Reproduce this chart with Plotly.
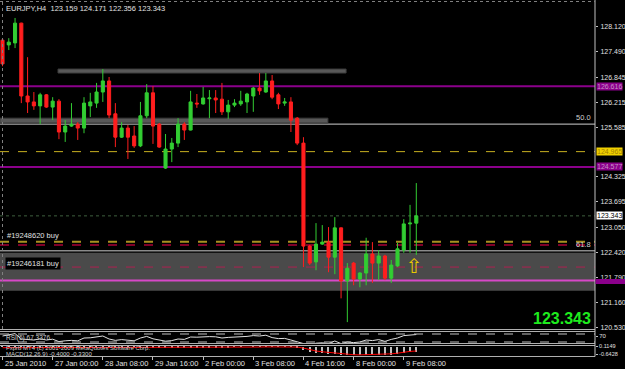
import plotly.graph_objects as go

# ---------------- data ----------------
chart_title = "EURJPY,H4  123.159 124.171 122.356 123.343"

opens = [127.78, 127.66, 127.71, 128.21, 126.37, 126.22, 126.12, 126.40, 126.09, 126.24,
         125.46, 125.61, 125.66, 125.56, 126.12, 126.19, 126.47, 126.75, 125.92, 125.33,
         125.56, 125.36, 125.11, 125.87, 126.45, 125.66, 124.55, 125.03, 125.18, 125.66,
         125.51, 126.19, 126.17, 126.30, 126.32, 126.29, 125.97, 126.14, 126.17, 126.22,
         126.37, 126.57, 126.47, 126.75, 126.40, 126.19, 126.22, 125.81, 125.18, 122.58,
         122.18, 122.63, 122.68, 122.30, 123.04, 121.70, 122.15, 121.75, 121.90, 122.38,
         122.15, 122.33, 121.77, 122.08, 122.48, 123.14, 123.159]
highs = [127.80, 127.83, 128.34, 128.22, 127.35, 126.47, 126.45, 126.42, 126.34, 126.29,
         125.76, 126.19, 125.71, 126.34, 126.45, 126.70, 127.05, 126.85, 126.19, 125.71,
         125.64, 125.61, 126.22, 126.67, 126.62, 125.69, 125.41, 125.31, 125.81, 125.71,
         126.50, 126.42, 126.60, 126.52, 126.52, 126.70, 126.27, 126.29, 126.50, 126.45,
         126.60, 126.95, 126.95, 126.90, 126.45, 126.32, 126.34, 125.84, 125.33, 122.61,
         123.16, 123.11, 123.06, 123.31, 123.05, 122.15, 122.18, 121.92, 122.79, 122.68,
         122.48, 122.36, 122.23, 122.66, 123.26, 123.62, 124.171]
lows = [127.12, 127.53, 127.58, 126.19, 125.94, 126.02, 125.66, 126.07, 125.76, 125.28,
        125.21, 125.59, 125.26, 125.43, 125.84, 126.07, 126.22, 125.81, 125.08, 125.31,
        124.78, 125.06, 125.08, 125.81, 125.16, 125.06, 124.53, 124.70, 125.08, 125.26,
        125.50, 126.07, 126.15, 125.81, 125.94, 125.89, 125.79, 126.09, 126.12, 125.94,
        125.97, 126.40, 126.45, 126.29, 126.04, 126.12, 125.46, 125.13, 122.05, 122.10,
        121.97, 122.61, 121.92, 121.87, 121.26, 120.66, 121.59, 121.54, 121.59, 121.65,
        121.72, 121.72, 121.65, 122.05, 122.41, 122.41, 122.356]
closes = [127.18, 127.73, 128.21, 126.37, 126.22, 126.12, 126.40, 126.09, 126.24, 125.46,
          125.61, 125.66, 125.56, 126.19, 126.22, 126.47, 126.75, 125.89, 125.33, 125.56,
          125.33, 125.11, 125.87, 126.45, 125.61, 125.08, 125.03, 125.18, 125.66, 125.51,
          126.22, 126.17, 126.32, 126.32, 126.27, 125.97, 126.14, 126.19, 126.24, 126.42,
          126.57, 126.50, 126.75, 126.34, 126.17, 126.22, 125.76, 125.18, 122.58, 122.15,
          122.63, 122.68, 122.30, 123.04, 121.70, 122.02, 121.75, 121.90, 122.38, 122.15,
          122.33, 121.77, 122.10, 122.51, 123.14, 123.16, 123.343]

rsi_values = [60, 65, 72, 45, 42, 40, 46, 40, 44, 32,
              36, 38, 36, 50, 51, 56, 60, 45, 38, 42,
              38, 36, 50, 58, 46, 40, 34, 37, 45, 43,
              55, 54, 57, 57, 56, 50, 53, 54, 55, 58,
              62, 60, 64, 52, 47, 48, 40, 32, 15, 13,
              24, 26, 22, 35, 22, 30, 27, 30, 40, 37,
              42, 33, 43, 50, 62, 63, 67.3]
rsi_levels = [70, 30]

macd_hist = [0.03, 0.04, 0.05, 0.02, -0.01, -0.03, -0.04, -0.05, -0.05, -0.06,
             -0.07, -0.07, -0.07, -0.06, -0.05, -0.04, -0.03, -0.03, -0.04, -0.05,
             -0.06, -0.06, -0.05, -0.04, -0.04, -0.05, -0.06, -0.06, -0.05, -0.05,
             -0.04, -0.03, -0.02, -0.02, -0.02, -0.02, -0.02, -0.01, -0.01, 0.00,
             0.01, 0.02, 0.02, 0.02, 0.01, 0.01, -0.01, -0.06, -0.25, -0.38,
             -0.45, -0.50, -0.55, -0.56, -0.63, -0.66, -0.68, -0.68, -0.66, -0.64,
             -0.63, -0.64, -0.62, -0.58, -0.50, -0.44, -0.40]
macd_signal = [-0.07, -0.07, -0.07, -0.07, -0.07, -0.07, -0.07, -0.07, -0.07, -0.07,
               -0.07, -0.07, -0.07, -0.07, -0.07, -0.07, -0.07, -0.07, -0.07, -0.07,
               -0.07, -0.07, -0.07, -0.07, -0.06, -0.06, -0.06, -0.06, -0.06, -0.06,
               -0.05, -0.05, -0.05, -0.05, -0.04, -0.04, -0.04, -0.03, -0.03, -0.03,
               -0.02, -0.02, -0.01, -0.01, 0.00, 0.00, 0.00, -0.02, -0.10, -0.24,
               -0.33, -0.39, -0.44, -0.48, -0.52, -0.57, -0.62, -0.63, -0.62, -0.60,
               -0.58, -0.57, -0.55, -0.50, -0.42, -0.36, -0.33]

time_tick_bars = [0, 8, 16, 24, 32, 40, 48, 56, 64]
time_tick_labels = ["25 Jan 2010", "27 Jan 00:00", "28 Jan 08:00", "29 Jan 16:00",
                    "2 Feb 00:00", "3 Feb 08:00", "4 Feb 16:00", "8 Feb 00:00", "9 Feb 08:00"]

price_ticks = [128.120, 127.490, 126.845, 126.215, 125.585, 124.325,
               123.695, 123.050, 122.420, 121.790, 121.160, 120.530]
price_tick_labels = ["128.120", "127.490", "126.845", "126.215", "125.585", "124.325",
                     "123.695", "123.050", "122.420", "121.790", "121.160", "120.530"]

# horizontal objects on the chart
purple_levels = [126.616, 124.577]
purple_labels = ["126.616", "124.577"]
yellow_level = 124.965
yellow_label = "124.965"
bid_price = 123.343
bid_label = "123.343"
fib_levels = [125.66, 122.46]
fib_names = ["50.0", "61.8"]
order_levels = [122.69, 122.61]
order_label = "#19248620 buy"
zone_label = "#19246181 buy"
zone_low, zone_high = 121.45, 122.41
zone_mid_level = 122.05
pink_level = 121.71
bars_top = [(8.85, 54.8, 126.95, 127.05), (-0.4, 51.9, 125.69, 125.81)]  # (start bar, end bar, low, high)
arrow_bar = [65.6]
arrow_price = [122.02]

# ---------------- figure ----------------
W, H = 625, 369
XR = 595 / W
def py(px):
    return 1 - px / H

GREEN = "#32CD32"
RED = "#FF1E1E"
FONT = "Liberation Sans"
bars = list(range(len(opens)))

fig = go.Figure()
fig.add_trace(go.Candlestick(
    x=bars, open=opens, high=highs, low=lows, close=closes,
    increasing=dict(line=dict(color=GREEN, width=1), fillcolor=GREEN),
    decreasing=dict(line=dict(color=RED, width=1), fillcolor=RED),
    whiskerwidth=0, xaxis="x", yaxis="y", hoverinfo="skip"))

fig.add_trace(go.Scatter(x=bars, y=rsi_values, mode="lines",
                         line=dict(color="#E0E0E0", width=1), xaxis="x2", yaxis="y2"))

fig.add_trace(go.Bar(x=bars, y=macd_hist, marker=dict(color="#C0C0C0", line=dict(width=0)),
                     width=0.18, xaxis="x3", yaxis="y3"))
fig.add_trace(go.Scatter(x=bars, y=macd_signal, mode="lines",
                         line=dict(color="#FF0000", width=1), xaxis="x3", yaxis="y3"))

fig.add_trace(go.Scatter(x=arrow_bar, y=arrow_price, mode="text", text=["⇧"],
                         textfont=dict(color="#E8C800", size=20, family="DejaVu Sans"),
                         xaxis="x", yaxis="y"))

shapes = []
for (b0, b1, lo, hi) in bars_top:
    shapes.append(dict(type="rect", xref="x", yref="y", x0=b0, x1=b1, y0=lo, y1=hi,
                       fillcolor="#585858", line=dict(color="#3C3C3C", width=1), layer="below"))
shapes.append(dict(type="rect", xref="paper", yref="y", x0=0, x1=XR, y0=zone_low, y1=zone_high,
                   fillcolor="#4A4A4A", line=dict(width=0), layer="below"))
shapes.append(dict(type="line", xref="paper", yref="y", x0=0, x1=XR, y0=zone_mid_level, y1=zone_mid_level,
                   line=dict(color="#B02050", width=1, dash="dash"), layer="below"))
for lv in purple_levels:
    shapes.append(dict(type="line", xref="paper", yref="y", x0=0, x1=XR, y0=lv, y1=lv,
                       line=dict(color="#8B008B", width=2), layer="below"))
shapes.append(dict(type="line", xref="paper", yref="y", x0=0, x1=XR, y0=yellow_level, y1=yellow_level,
                   line=dict(color="#C8B020", width=1, dash="dash"), layer="below"))
for lv in fib_levels:
    shapes.append(dict(type="line", xref="paper", yref="y", x0=0, x1=XR, y0=lv, y1=lv,
                       line=dict(color="#D0D0D0", width=1), layer="below"))
shapes.append(dict(type="line", xref="paper", yref="y", x0=0, x1=XR, y0=bid_price, y1=bid_price,
                   line=dict(color="#3E5E3E", width=1, dash="dot"), layer="below"))
shapes.append(dict(type="line", xref="paper", yref="y", x0=0, x1=XR, y0=order_levels[0], y1=order_levels[0],
                   line=dict(color="#A89020", width=2, dash="dash"), layer="below"))
shapes.append(dict(type="line", xref="paper", yref="y", x0=0, x1=XR, y0=order_levels[1], y1=order_levels[1],
                   line=dict(color="#800028", width=2, dash="dash"), layer="below"))
shapes.append(dict(type="line", xref="paper", yref="y", x0=0, x1=XR, y0=pink_level, y1=pink_level,
                   line=dict(color="#D848C8", width=2), layer="below"))
for lv in rsi_levels:
    shapes.append(dict(type="line", xref="paper", yref="y2", x0=0, x1=XR, y0=lv, y1=lv,
                       line=dict(color="#C0C0C0", width=1, dash="dash")))
for px in [329.5, 331.5, 343.5, 345.5, 356.5]:
    shapes.append(dict(type="line", xref="paper", yref="paper", x0=0, x1=XR, y0=py(px), y1=py(px),
                       line=dict(color="#B0B0B0", width=1)))
shapes.append(dict(type="line", xref="paper", yref="paper", x0=XR, x1=XR, y0=py(356.5), y1=1,
                   line=dict(color="#C0C0C0", width=1)))
shapes.append(dict(type="line", xref="paper", yref="paper", x0=2.5 / W, x1=2.5 / W, y0=py(329), y1=1,
                   line=dict(color="#808080", width=1, dash="dot")))
shapes.append(dict(type="line", xref="paper", yref="paper", x0=0, x1=XR, y0=py(1.5), y1=py(1.5),
                   line=dict(color="#808080", width=1, dash="dot")))
shapes.append(dict(type="rect", xref="paper", yref="paper", x0=595.5 / W, x1=625 / W,
                   y0=py(284), y1=py(279), fillcolor="#8B008B", line=dict(width=0)))

ann = []
ann.append(dict(xref="paper", yref="paper", x=4 / W, y=py(8), xanchor="left", yanchor="middle",
                text=chart_title, showarrow=False, font=dict(size=7.5, color="#E0E0E0", family=FONT)))
def axis_label(lv, txt, bg, fg):
    return dict(xref="paper", yref="y", x=596 / W, y=lv, xanchor="left", yanchor="middle",
                text=txt, showarrow=False, bgcolor=bg, borderpad=0,
                font=dict(size=7, color=fg, family=FONT))
for lv, t in zip(purple_levels, purple_labels):
    ann.append(axis_label(lv, t, "#8B008B", "#C890C8"))
ann.append(axis_label(yellow_level, yellow_label, "#F0D000", "#A08000"))
ann.append(axis_label(bid_price, bid_label, "#FFFFFF", "#000000"))
for lv, t in zip(fib_levels, fib_names):
    ann.append(dict(xref="paper", yref="y", x=593 / W, y=lv, xanchor="right", yanchor="bottom",
                    text=t, showarrow=False, font=dict(size=7.5, color="#D0D0D0", family=FONT)))
ann.append(dict(xref="paper", yref="y", x=5 / W, y=order_levels[0], xanchor="left", yanchor="bottom",
                text=order_label, showarrow=False, font=dict(size=7.5, color="#E0E0E0", family=FONT)))
ann.append(dict(xref="paper", yref="paper", x=5 / W, y=py(263), xanchor="left", yanchor="middle",
                text=zone_label, showarrow=False, bgcolor="#000000",
                font=dict(size=7.5, color="#E0E0E0", family=FONT)))
ann.append(dict(xref="paper", yref="paper", x=593 / W, y=py(318), xanchor="right", yanchor="middle",
                text="<b>" + bid_label + "</b>", showarrow=False,
                font=dict(size=16, color="#1EEB1E", family=FONT)))
ann.append(dict(xref="paper", yref="paper", x=4 / W, y=py(338), xanchor="left", yanchor="middle",
                text="RSI(6) 67.3376", showarrow=False, font=dict(size=6.5, color="#D0D0D0", family=FONT)))
ann.append(dict(xref="paper", yref="paper", x=4 / W, y=py(348), xanchor="left", yanchor="middle",
                text="Fxprb MT4 (c) 2001-2009 MetaQuotes Software Corp.", showarrow=False,
                font=dict(size=6, color="#D0D0D0", family=FONT)))
ann.append(dict(xref="paper", yref="paper", x=4 / W, y=py(354), xanchor="left", yanchor="middle",
                text="MACD(12,26,9) -0.4000 -0.3300", showarrow=False,
                font=dict(size=6, color="#D0D0D0", family=FONT)))
for b, t in zip(time_tick_bars, time_tick_labels):
    ann.append(dict(xref="x3", yref="paper", x=b, y=py(363), xanchor="left", yanchor="middle",
                    text=t, showarrow=False, font=dict(size=7.5, color="#E0E0E0", family=FONT)))

fig.update_layout(
    width=W, height=H, margin=dict(l=0, r=0, t=0, b=0),
    paper_bgcolor="#000000", plot_bgcolor="#000000", showlegend=False,
    shapes=shapes, annotations=ann, bargap=0,
    xaxis=dict(domain=[0, XR], range=[-0.4, 94.5], visible=False, rangeslider=dict(visible=False),
               anchor="y"),
    yaxis=dict(domain=[py(329), 1], range=[120.486, 128.794], side="right", anchor="x",
               tickvals=price_ticks, ticktext=price_tick_labels, ticks="outside", ticklen=2,
               tickcolor="#C0C0C0", tickfont=dict(size=7, color="#E0E0E0", family=FONT),
               ticklabelstandoff=1,
               showgrid=False, zeroline=False, showline=False, automargin=False),
    xaxis2=dict(domain=[0, XR], matches="x", anchor="y2", visible=False),
    yaxis2=dict(domain=[py(343), py(332)], range=[25, 80], side="right", anchor="x2",
                tickvals=[60], ticktext=["70"], ticks="outside", ticklen=2,
                tickcolor="#C0C0C0", tickfont=dict(size=6, color="#E0E0E0", family=FONT),
                showgrid=False, zeroline=False, automargin=False),
    xaxis3=dict(domain=[0, XR], matches="x", anchor="y3", showticklabels=False, ticks="outside",
                tickvals=time_tick_bars, ticklen=3, tickcolor="#C0C0C0", showgrid=False,
                zeroline=False, showline=False),
    yaxis3=dict(domain=[py(356), py(345)], range=[-0.72, 0.14], side="right", anchor="x3",
                tickvals=[0.06, -0.58], ticktext=["0.1149", "-0.6428"], ticks="outside", ticklen=2,
                tickcolor="#C0C0C0", tickfont=dict(size=5.5, color="#E0E0E0", family=FONT),
                showgrid=False, zeroline=False, automargin=False),
)

fig.write_html("out.html")
